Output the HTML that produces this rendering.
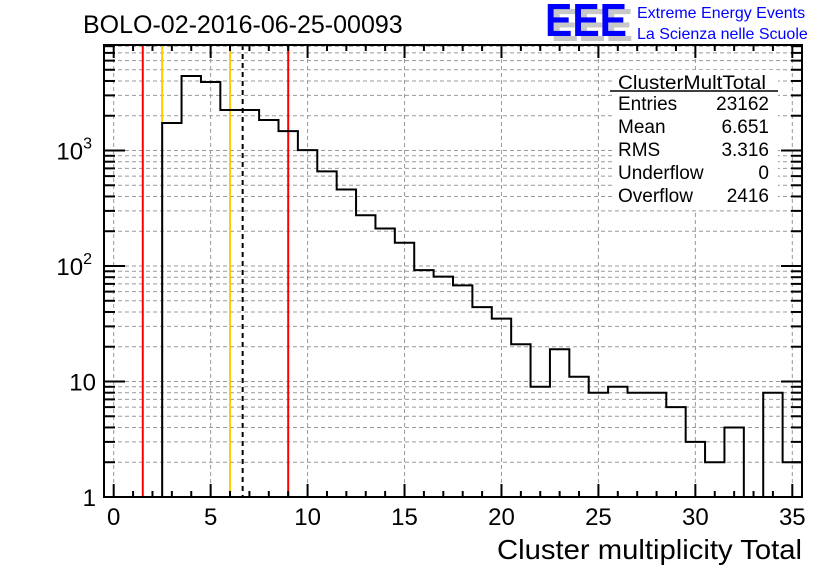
<!DOCTYPE html>
<html><head><meta charset="utf-8"><style>
html,body{margin:0;padding:0;background:#fff;}
svg{display:block;font-family:"Liberation Sans",sans-serif;}
</style></head><body>
<svg id="c" width="836" height="572" viewBox="0 0 836 572">
<rect width="836" height="572" fill="#fff"/>
<g id="grid"></g>
<g id="marks"></g>
<g id="axes"></g>
<text x="83" y="33" font-size="25">BOLO-02-2016-06-25-00093</text>
<g>
<text x="551" y="41" font-size="46" font-weight="bold" fill="#c8c8c8" textLength="82" lengthAdjust="spacingAndGlyphs">EEE</text>
<text x="545" y="36" font-size="46" font-weight="bold" fill="#0000ff" textLength="82" lengthAdjust="spacingAndGlyphs">EEE</text>
<text x="637" y="18" font-size="16" fill="#0000ff">Extreme Energy Events</text>
<text x="637" y="39" font-size="16" fill="#0000ff">La Scienza nelle Scuole</text>
</g>
<g font-size="19">
<rect x="612" y="70" width="166" height="140" fill="#fff"/>
<text x="692" y="89" text-anchor="middle" textLength="148" lengthAdjust="spacingAndGlyphs">ClusterMultTotal</text>
<line x1="610" y1="91" x2="778" y2="91" stroke="#000" stroke-width="1.5"/>
<text x="618" y="110">Entries</text><text x="769" y="110" text-anchor="end">23162</text>
<text x="618" y="133">Mean</text><text x="769" y="133" text-anchor="end">6.651</text>
<text x="618" y="156">RMS</text><text x="769" y="156" text-anchor="end">3.316</text>
<text x="618" y="179">Underflow</text><text x="769" y="179" text-anchor="end">0</text>
<text x="618" y="202">Overflow</text><text x="769" y="202" text-anchor="end">2416</text>
</g>
<text x="802" y="559" font-size="28" text-anchor="end" textLength="305" lengthAdjust="spacingAndGlyphs">Cluster multiplicity Total</text>
</svg>
<script>
const binCenters=[1,2,3,4,5,6,7,8,9,10,11,12,13,14,15,16,17,18,19,20,21,22,23,24,25,26,27,28,29,30,31,32,33,34,35];
const counts=[0,0,1730,4420,3920,2240,2240,1835,1473,1008,659,460,275,211,159,92,81,68,44,35,21,9,19,11,8,9,8,8,6,3,2,4,0,8,2];
const xTicks=[0,5,10,15,20,25,30,35];
const yTickLabels=["1","10","10<tspan dy='-11' font-size='16'>2</tspan>","10<tspan dy='-11' font-size='16'>3</tspan>"];
const vlineValues=[1.5,2.5,6,6.651,9];
const vlineColors=["#ff0000","#ffcc00","#ffcc00","#000","#ff0000"];

const L=104,R=802,T=45,B=497,xmin=-0.5,xmax=35.5,ymin=0,ymax=(497-45)/115.5;
const NS="http://www.w3.org/2000/svg";
function X(v){return L+(v-xmin)/(xmax-xmin)*(R-L);}
function Y(v){const l=Math.log10(Math.max(v,1));return B-(l-ymin)/(ymax-ymin)*(B-T);}
function mk(tag,attrs,parent){const e=document.createElementNS(NS,tag);for(const k in attrs)e.setAttribute(k,attrs[k]);parent.appendChild(e);return e;}
const grid=document.getElementById('grid'),marks=document.getElementById('marks'),axes=document.getElementById('axes');
for(const t of xTicks){const g=mk('line',{x1:X(t),x2:X(t),y1:T,y2:B,stroke:'#999','stroke-dasharray':'4,3','stroke-width':1},grid);

}
for(let d=0;d<4;d++)for(let m=1;m<10;m++){const v=m*Math.pow(10,d);if(Math.log10(v)>ymax)continue;const y=Y(v);
if(y<T+1||y>B-1)continue;
const g=mk('line',{x1:L,x2:R,y1:y,y2:y,stroke:'#999','stroke-dasharray':'4,3','stroke-width':1},grid);

}
vlineValues.forEach((v,i)=>{const ln=mk('line',{x1:X(v),x2:X(v),y1:T,y2:B,stroke:vlineColors[i],'stroke-width':2},marks);
if(i===3)ln.setAttribute('stroke-dasharray','5,4');

});
let d='';let prevY=B;
for(let i=0;i<binCenters.length;i++){const x0=X(binCenters[i]-0.5),x1=X(binCenters[i]+0.5);const y=counts[i]>0?Y(counts[i]):B;
d+=(i===0?`M${x0},${B}L${x0},${y}`:`L${x0},${prevY}L${x0},${y}`)+`L${x1},${y}`;prevY=y;}
const h=mk('path',{d:d,fill:'none',stroke:'#000','stroke-width':2},marks);


const fr=mk('rect',{x:L,y:T,width:R-L,height:B-T,fill:'none',stroke:'#000','stroke-width':2},axes);


for(let v=0;v<=35;v++){const maj=v%5===0;const len=maj?13:6;const x=X(v);
mk('line',{x1:x,x2:x,y1:B,y2:B-len,stroke:'#000','stroke-width':2},axes);
mk('line',{x1:x,x2:x,y1:T,y2:T+len,stroke:'#000','stroke-width':2},axes);}
xTicks.forEach(t=>{const tx=mk('text',{x:X(t),y:525,'font-size':24,'text-anchor':'middle'},axes);tx.textContent=t;

});
for(let dd=0;dd<4;dd++)for(let m=1;m<10;m++){const v=m*Math.pow(10,dd);if(Math.log10(v)>ymax)continue;const y=Y(v);const len=m===1?21:11;
mk('line',{x1:L,x2:L+len,y1:y,y2:y,stroke:'#000','stroke-width':2},axes);
mk('line',{x1:R,x2:R-len,y1:y,y2:y,stroke:'#000','stroke-width':2},axes);}
yTickLabels.forEach((s,i)=>{const tx=mk('text',{x:i<2?96:92,y:Y(Math.pow(10,i))+9,'font-size':24,'text-anchor':'end'},axes);tx.innerHTML=s;

});
</script>
</body></html>
